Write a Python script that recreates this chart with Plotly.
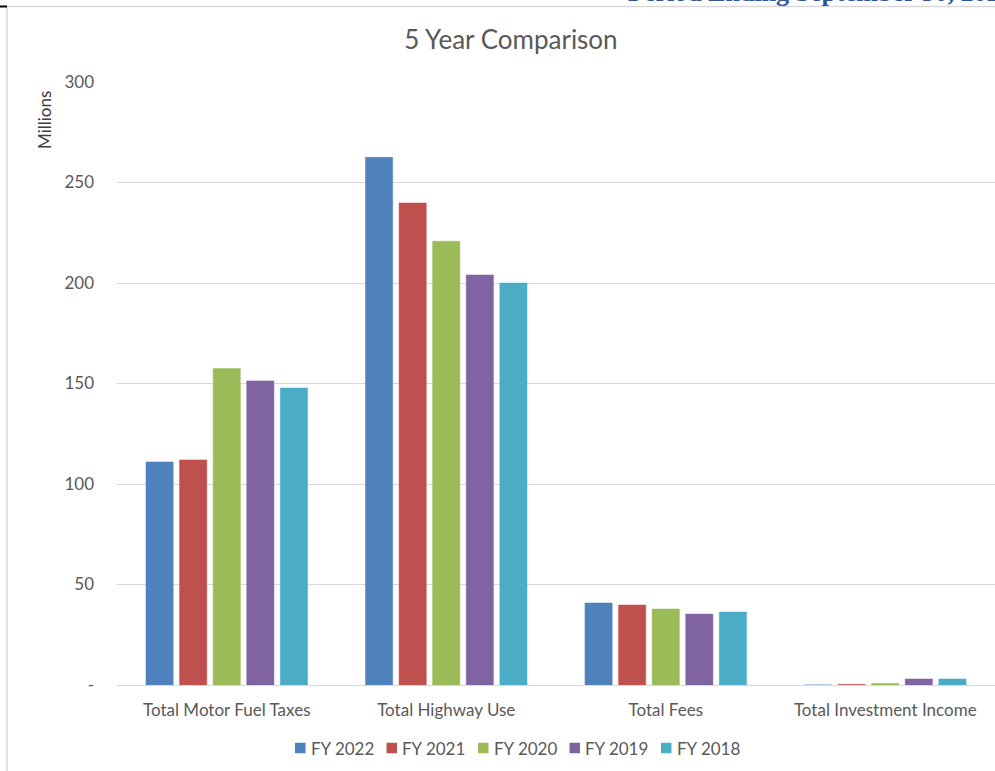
import plotly.graph_objects as go

# Revenue categories and five fiscal years of totals (in millions)
categories = ["Total Motor Fuel Taxes", "Total Highway Use", "Total Fees", "Total Investment Income"]
fy2022 = [111.0, 262.5, 40.8, 0.0]
fy2021 = [112.0, 239.8, 39.8, 0.3]
fy2020 = [157.5, 220.8, 37.8, 0.8]
fy2019 = [151.3, 204.0, 35.3, 3.0]
fy2018 = [147.8, 200.0, 36.3, 3.0]

series_names = ["FY 2022", "FY 2021", "FY 2020", "FY 2019", "FY 2018"]
series_values = [fy2022, fy2021, fy2020, fy2019, fy2018]
series_colors = ["#4F81BD", "#C0504D", "#9BBB59", "#8064A2", "#4BACC6"]

y_tickvals = [0, 50, 100, 150, 200, 250, 300]
y_ticktext = ["-", "50", "100", "150", "200", "250", "300"]

W, H = 995, 771
L, R, T, B = 117, 0, 82, 86
pw, ph = W - L - R, H - T - B


def px_x(x):
    return (x - L) / pw


def px_y(y):
    return (H - B - y) / ph


FONT = "Lato, 'Open Sans', sans-serif"
GREY = "#595959"
FS = 17

fig = go.Figure()
for name, vals, col in zip(series_names, series_values, series_colors):
    fig.add_trace(go.Bar(
        x=categories, y=vals, name=name, showlegend=False,
        marker=dict(color=col, line=dict(color=col, width=0.5)),
    ))

fig.update_layout(
    width=W, height=H,
    margin=dict(l=L, r=R, t=T, b=B),
    paper_bgcolor="white", plot_bgcolor="white",
    barmode="group", bargap=0.235, bargroupgap=0.19,
    font=dict(family=FONT, color=GREY, size=FS),
    title=dict(text="5 Year Comparison", x=511 / W, xref="container", xanchor="center",
               y=1 - 40 / H, yref="container", yanchor="middle",
               font=dict(family=FONT, size=26, color=GREY)),
    showlegend=False,
)

fig.update_xaxes(showgrid=False, showline=True, linecolor="#D9D9D9", linewidth=1,
                 ticks="", ticklabelstandoff=10,
                 tickfont=dict(family=FONT, size=FS, color=GREY))
fig.update_yaxes(range=[0, 300], tickvals=y_tickvals, ticktext=y_ticktext,
                 showgrid=True, gridcolor="#D9D9D9", gridwidth=1,
                 zeroline=False, showline=False, ticks="",
                 ticklabelstandoff=22,
                 tickfont=dict(family=FONT, size=FS, color=GREY))

# Legend row below the axis: colour key square followed by series name
leg_x0, leg_pitch, leg_y, sq = 295, 91.5, 748, 10.5
for i, (name, col) in enumerate(zip(series_names, series_colors)):
    x0 = leg_x0 + i * leg_pitch
    fig.add_shape(type="rect", xref="paper", yref="paper",
                  x0=px_x(x0), x1=px_x(x0 + sq),
                  y0=px_y(leg_y - sq / 2), y1=px_y(leg_y + sq / 2),
                  fillcolor=col, line=dict(width=0))
    fig.add_annotation(text=name, xref="paper", yref="paper",
                       x=px_x(x0 + sq + 3), y=px_y(leg_y),
                       xanchor="left", yanchor="middle", showarrow=False,
                       font=dict(family=FONT, size=FS, color=GREY))

# "Millions" display-unit label
fig.add_annotation(text="Millions", xref="paper", yref="paper",
                   x=px_x(44), y=px_y(120), xanchor="center", yanchor="middle",
                   textangle=-90, showarrow=False,
                   font=dict(family=FONT, size=FS, color="#404040"))

# Report header running along the top edge
fig.add_annotation(text="<b>Period Ending September 30, 2022</b>", xref="paper", yref="paper",
                   x=px_x(626), y=px_y(-7), xanchor="left", yanchor="middle", showarrow=False,
                   font=dict(family="'Liberation Serif', 'DejaVu Serif', serif", size=26, color="#2F5597"))

# Chart frame lines
fig.add_shape(type="line", xref="paper", yref="paper",
              x0=px_x(7), x1=px_x(W + 5), y0=px_y(6.5), y1=px_y(6.5),
              line=dict(color="#D9D9D9", width=1.5))
fig.add_shape(type="line", xref="paper", yref="paper",
              x0=px_x(7), x1=px_x(7), y0=px_y(6.5), y1=px_y(H + 5),
              line=dict(color="#D9D9D9", width=1.5))
fig.add_shape(type="line", xref="paper", yref="paper",
              x0=px_x(0), x1=px_x(7), y0=px_y(6.5), y1=px_y(6.5),
              line=dict(color="black", width=2))

fig.write_html("out.html")
